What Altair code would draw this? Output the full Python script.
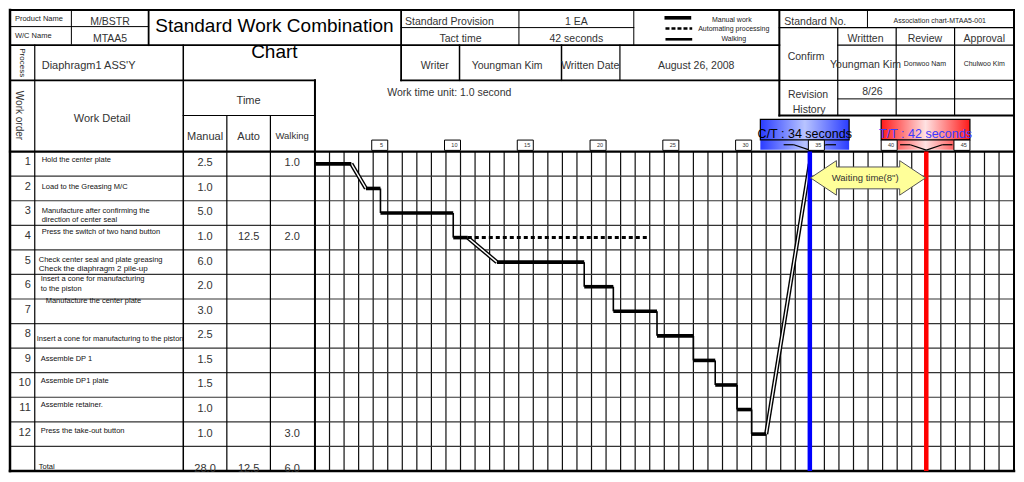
import altair as alt
import pandas as pd

FONT = "Liberation Sans"

# ---------------- chart values ----------------
product_name = "M/BSTR"
wc_name = "MTAA5"
process_name = "Diaphragm1 ASS'Y"
standard_provision = "1 EA"
tact_time = 42
cycle_time = 34
writer = "Youngman Kim"
written_date = "August 26, 2008"
standard_no = "Association chart-MTAA5-001"
confirm_roles = ["Writtten", "Review", "Approval"]
confirm_names = ["Youngman Kim", "Donwoo Nam", "Chulwoo Kim"]
revision = "8/26"
time_unit_note = "Work time unit: 1.0 second"

work_order = [1, 2, 3, 4, 5, 6, 7, 8, 9, 10, 11, 12]
work_detail = [
    ["Hold the center plate"],
    ["Load to the Greasing M/C"],
    ["Manufacture after confirming the", "direction of center seal"],
    ["Press the switch of two hand button"],
    ["Check center seal and plate greasing", "Check the diaphragm 2 pile-up"],
    ["Insert a cone for manufacturing", "to the piston"],
    ["Manufacture the center plate"],
    ["Insert a cone for manufacturing to the piston"],
    ["Assemble DP 1"],
    ["Assemble DP1 plate"],
    ["Assemble retainer."],
    ["Press the take-out button"],
]
manual_time = [2.5, 1.0, 5.0, 1.0, 6.0, 2.0, 3.0, 2.5, 1.5, 1.5, 1.0, 1.0]
auto_time = [None, None, None, 12.5, None, None, None, None, None, None, None, None]
walking_time = [1.0, None, None, 2.0, None, None, None, None, None, None, None, 3.0]
time_ticks = [5, 10, 15, 20, 25, 30, 35, 40, 45]
legend_labels = ["Manual work", "Automating processing", "Walking"]

# ---------------- layout (reference pixel space) ----------------
PX0, PX1, PY0, PY1 = 4, 1018, 5, 477
T0, SEC = 312, 14.7        # pixel of time 0, pixels per second
R0, ROW_H = 150, 25.15     # top of first row, row height
N_SEC = 48

X_PX = alt.Scale(domain=[PX0, PX1], nice=False, zero=False)
Y_PX = alt.Scale(domain=[PY0, PY1], nice=False, zero=False, reverse=True)
X_T = alt.Scale(domain=[(PX0 - T0) / SEC, (PX1 - T0) / SEC], nice=False, zero=False)
Y_R = alt.Scale(domain=[(PY0 - R0) / ROW_H, (PY1 - R0) / ROW_H], nice=False, zero=False, reverse=True)


def rules(df, xs, ys, **mk):
    enc = dict(x=alt.X("x:Q", scale=xs, axis=None), y=alt.Y("y:Q", scale=ys, axis=None))
    if "x2" in df:
        enc["x2"] = "x2:Q"
    if "y2" in df:
        enc["y2"] = "y2:Q"
    if "w" in df:
        enc["strokeWidth"] = alt.StrokeWidth("w:Q", scale=None)
    if "c" in df:
        enc["color"] = alt.Color("c:N", scale=None)
    return alt.Chart(df).mark_rule(**mk).encode(**enc)


def texts(df, xs, ys, align="center", **mk):
    enc = dict(
        x=alt.X("x:Q", scale=xs, axis=None),
        y=alt.Y("y:Q", scale=ys, axis=None),
        text="t:N",
        size=alt.Size("s:Q", scale=None),
        color=alt.Color("c:N", scale=None),
    )
    if "a" in df:
        enc["angle"] = alt.Angle("a:Q", scale=None)
    return alt.Chart(df).mark_text(align=align, baseline="middle", font=FONT, **mk).encode(**enc)


layers = []

# ---------------- time grid ----------------
grid_v = pd.DataFrame({"x": list(range(1, N_SEC)), "y": 0, "y2": len(work_order) + 1})
layers.append(rules(grid_v, X_T, Y_R, color="#111", strokeWidth=1.2))
row_lines = pd.DataFrame({"x": PX0, "x2": PX1, "y": [float(k) for k in range(1, len(work_order) + 1)]})
layers.append(rules(row_lines, X_PX, Y_R, color="#333", strokeWidth=1.2))

# ---------------- form frame ----------------
frame = [
    (4, 5, 1018, 5, 2), (4, 477, 1018, 477, 2.5), (4, 5, 4, 477, 2.5), (1018, 5, 1018, 477, 2),
    (4, 22, 144, 22, 1), (66, 5, 66, 40, 1), (144, 5, 144, 41, 1.8), (4, 41, 399, 41, 1.8),
    (399, 5, 399, 77, 1.8), (4, 77, 312, 77, 1.8), (29, 41, 29, 477, 1.2), (179, 41, 179, 477, 1.5),
    (179, 113, 312, 113, 1.2), (223, 113, 223, 477, 1.2), (267, 113, 267, 477, 1.2), (312, 77, 312, 477, 2),
    (399, 23, 634, 23, 1), (518, 5, 518, 41, 1), (634, 5, 634, 41, 1), (399, 41, 781, 41, 1.8),
    (458, 41, 458, 77, 1.5), (561, 41, 561, 77, 1.5), (620, 41, 620, 77, 1.2), (399, 77, 781, 77, 1.8),
    (781, 5, 781, 113, 2), (781, 23, 1018, 23, 1.2), (870, 5, 870, 23, 1), (840, 23, 840, 113, 1.2),
    (899, 23, 899, 113, 1.2), (958, 23, 958, 113, 1.2), (840, 41, 1018, 41, 1.2), (781, 77, 1018, 77, 1.2),
    (840, 96, 1018, 96, 1), (781, 113, 1018, 113, 1.8), (4, 150, 1018, 150, 2.2),
]
frame_df = pd.DataFrame(frame, columns=["x", "y", "x2", "y2", "w"])
layers.append(rules(frame_df, X_PX, Y_PX, color="#000", strokeCap="square"))

# ---------------- C/T and T/T callouts ----------------
box_y, box_y2, box_mid = -1.31, -0.08, -0.48


def callout(value, label, edge, light, text_color, dx0, dx1):
    g = alt.LinearGradient(
        gradient="linear",
        stops=[alt.GradientStop(color=edge, offset=0),
               alt.GradientStop(color=light, offset=0.5),
               alt.GradientStop(color=edge, offset=1)],
        x1=0, x2=1, y1=0, y2=0,
    )
    d = pd.DataFrame({"x": [value + dx0], "x2": [value + dx1], "y": [box_y], "y2": [box_y2]})
    body = alt.Chart(d).mark_rect(color=g, opacity=1).encode(
        x=alt.X("x:Q", scale=X_T, axis=None), x2="x2:Q", y=alt.Y("y:Q", scale=Y_R, axis=None), y2="y2:Q")
    d2 = pd.DataFrame({"x": [value + dx0], "x2": [value + dx1], "y": [box_y], "y2": [box_mid]})
    outline = alt.Chart(d2).mark_rect(fillOpacity=0, stroke="#000", strokeWidth=1.2).encode(
        x=alt.X("x:Q", scale=X_T, axis=None), x2="x2:Q", y=alt.Y("y:Q", scale=Y_R, axis=None), y2="y2:Q")
    ptr = pd.DataFrame({
        "x": [value - 1.8, value - 1.1, value, value + 1.1],
        "x2": [value - 1.1, value, value + 1.1, value + 1.8],
        "y": [-0.28, -0.28, -0.06, -0.28],
        "y2": [-0.28, -0.06, -0.28, -0.28],
    })
    pointer = rules(ptr, X_T, Y_R, color="#000", strokeWidth=1.2)
    lab = pd.DataFrame({"x": [value + (dx0 + dx1) / 2], "y": [-0.72], "t": [label], "s": [12.5], "c": [text_color]})
    return [body, outline, pointer, texts(lab, X_T, Y_R)]


layers += callout(cycle_time, f"C/T : {cycle_time}  seconds", "#2a3cff", "#b8c4ff", "#000", -3.4, 2.7)
layers += callout(tact_time, f"T/T : {tact_time} seconds", "#ff1a1a", "#ffe2e2", "#3a3aff", -3.1, 3.0)

# ---------------- second tick boxes ----------------
tick_df = pd.DataFrame({"x": [t - 1.1 for t in time_ticks], "x2": time_ticks, "y": -0.47, "y2": -0.05})
layers.append(alt.Chart(tick_df).mark_rect(fill="#fff", stroke="#000", strokeWidth=1).encode(
    x=alt.X("x:Q", scale=X_T, axis=None), x2="x2:Q", y=alt.Y("y:Q", scale=Y_R, axis=None), y2="y2:Q"))
tick_lab = pd.DataFrame({"x": [t - 0.42 for t in time_ticks], "y": -0.25,
                         "t": [str(t) for t in time_ticks], "s": 5.5, "c": "#333"})
layers.append(texts(tick_lab, X_T, Y_R))

# ---------------- gantt segments ----------------
man, auto, walk, drop = [], [], [], []
t = 0.0
n = len(work_order)
for i in range(n):
    s = t
    e = s + manual_time[i]
    yc = i + 0.5
    man.append({"x": s, "x2": e, "y": yc})
    if auto_time[i]:
        auto.append({"x": e, "x2": e + auto_time[i], "y": yc})
    w = walking_time[i] or 0.0
    if w:
        ny = (i + 1) + 0.5 if i < n - 1 else 0.5
        walk.append({"x": e, "x2": e + w, "y": yc, "y2": ny})
    elif i < n - 1:
        drop.append({"x": e, "x2": e, "y": yc, "y2": yc + 1})
    t = e + w

walk_df = pd.DataFrame(walk)
layers.append(rules(walk_df, X_T, Y_R, color="#000", strokeWidth=4.2))
layers.append(rules(walk_df, X_T, Y_R, color="#fff", strokeWidth=1.4))
layers.append(rules(pd.DataFrame(drop), X_T, Y_R, color="#000", strokeWidth=1.6))
layers.append(rules(pd.DataFrame(auto), X_T, Y_R, color="#000", strokeWidth=3, strokeDash=[4, 3]))
layers.append(rules(pd.DataFrame(man), X_T, Y_R, color="#000", strokeWidth=3.6))

# cycle / tact lines
ct_df = pd.DataFrame({"x": [cycle_time, tact_time], "y": 0, "y2": n + 1, "c": ["#0000ff", "#ff0000"]})
layers.append(rules(ct_df, X_T, Y_R, strokeWidth=4.5))

# waiting-time arrow
ARROW = ("M -1 0 L -0.55 -0.3 L -0.55 -0.19 L 0.55 -0.19 L 0.55 -0.3 L 1 0 "
         "L 0.55 0.3 L 0.55 0.19 L -0.55 0.19 L -0.55 0.3 Z")
arr = pd.DataFrame({"x": [(cycle_time + tact_time) / 2], "y": [1.07]})
layers.append(alt.Chart(arr).mark_point(shape=ARROW, size=13225, filled=True, fill="#ffff99",
                                        stroke="#555", strokeWidth=1, opacity=1, fillOpacity=1).encode(
    x=alt.X("x:Q", scale=X_T, axis=None), y=alt.Y("y:Q", scale=Y_R, axis=None)))
wlab = pd.DataFrame({"x": [(cycle_time + tact_time) / 2 - 0.2], "y": [1.07],
                     "t": [f'Waiting time({tact_time - cycle_time}")'], "s": [9.5], "c": ["#333"]})
layers.append(texts(wlab, X_T, Y_R))

# ---------------- legend ----------------
leg = pd.DataFrame({"x": [665, 666, 666], "x2": [692, 693, 693], "y": [13, 24, 35], "w": [3.6, 2.6, 2.6]})
layers.append(rules(leg.iloc[[0, 2]], X_PX, Y_PX, color="#000"))
layers.append(rules(leg.iloc[[1]], X_PX, Y_PX, color="#000", strokeDash=[4, 2]))
leg_t = pd.DataFrame({"x": [733, 735, 735], "y": [15, 24, 35], "t": legend_labels, "s": 7, "c": "#222"})
layers.append(texts(leg_t, X_PX, Y_PX))

# ---------------- header texts ----------------
C, L = "center", "left"
head = [
    ("Product Name", 9, 14, 7.5, L, 0, "#222"),
    ("W/C Name", 9, 32, 7.5, L, 0, "#222"),
    (product_name, 105, 17, 10.5, C, 0, "#333"),
    (wc_name, 105, 35, 10.5, C, 0, "#333"),
    ("Standard Work Combination", 271, 21, 19, C, 0, "#000"),
    ("Chart", 271, 48, 19, C, 0, "#000"),
    ("Process", 16, 59, 8, C, 90, "#222"),
    (process_name, 36, 62, 11, L, 0, "#333"),
    ("Work order", 13, 113, 10, C, 90, "#333"),
    ("Work Detail", 97, 117, 11, C, 0, "#333"),
    ("Time", 245, 98, 11, C, 0, "#333"),
    ("Manual", 201, 135, 11, C, 0, "#333"),
    ("Auto", 245, 135, 11, C, 0, "#333"),
    ("Walking", 289, 134, 9.5, C, 0, "#333"),
    (time_unit_note, 385, 90, 10.5, L, 0, "#333"),
    ("Standard Provision", 403, 17, 10.5, L, 0, "#333"),
    (standard_provision, 576, 17, 10.5, C, 0, "#333"),
    ("Tact time", 459, 35, 10.5, C, 0, "#333"),
    (f"{tact_time} seconds", 576, 35, 10.5, C, 0, "#333"),
    ("Writer", 433, 62, 10.5, C, 0, "#333"),
    (writer, 506, 62, 10.5, C, 0, "#333"),
    ("Written Date", 590, 62, 10.5, C, 0, "#333"),
    (written_date, 697, 62, 10.5, C, 0, "#333"),
    ("Standard No.", 786, 17, 10.5, L, 0, "#333"),
    (standard_no, 943, 16, 7, C, 0, "#222"),
    (confirm_roles[0], 868, 35, 10.5, C, 0, "#333"),
    (confirm_roles[1], 928, 35, 10.5, C, 0, "#333"),
    (confirm_roles[2], 988, 35, 10.5, C, 0, "#333"),
    ("Confirm", 808, 53, 10.5, C, 0, "#333"),
    (confirm_names[0], 868, 61, 10.5, C, 0, "#333"),
    (confirm_names[1], 928, 60, 7, C, 0, "#222"),
    (confirm_names[2], 988, 60, 7, C, 0, "#222"),
    ("Revision", 810, 92, 10.5, C, 0, "#333"),
    ("History", 811, 107, 10.5, C, 0, "#333"),
    (revision, 875, 89, 10.5, C, 0, "#333"),
]
head_df = pd.DataFrame(head, columns=["t", "x", "y", "s", "al", "a", "c"])
for al in (C, L):
    layers.append(texts(head_df[head_df.al == al].drop(columns="al"), X_PX, Y_PX, align=al))

# ---------------- table rows ----------------
detail_dy = [[9], [11], [10, 20], [7], [10, 20], [5, 15], [2], [16], [11], [9], [8], [9]]
detail_x = [36, 36, 36, 36, 33, 35, 40, 31, 35, 35, 35, 35]
num_rows = pd.DataFrame({"x": 25, "y": [i + 11 / ROW_H for i in range(n)],
                         "t": [str(k) for k in work_order], "s": 11, "c": "#333"})
layers.append(texts(num_rows, X_PX, Y_R, align="right"))

det = []
for i in range(n):
    for line, dy in zip(work_detail[i], detail_dy[i]):
        det.append({"x": detail_x[i], "y": i + dy / ROW_H, "t": line,
                    "s": 8 if (i == 4 and dy > 15) else 7.5, "c": "#111"})
det.append({"x": 33, "y": n + 21 / ROW_H, "t": "Total", "s": 7.5, "c": "#111"})
layers.append(texts(pd.DataFrame(det), X_PX, Y_R, align="left"))


def fmt(v):
    return f"{v:.1f}" if v else ""


vals = []
for i in range(n):
    for xcol, v in ((201, manual_time[i]), (245, auto_time[i]), (289, walking_time[i])):
        if v:
            vals.append({"x": xcol, "y": i + 12 / ROW_H, "t": fmt(v), "s": 11, "c": "#333"})
tot = [sum(manual_time), sum(v or 0 for v in auto_time), sum(v or 0 for v in walking_time)]
for xcol, v in zip((201, 245, 289), tot):
    vals.append({"x": xcol, "y": n + 23 / ROW_H, "t": fmt(v), "s": 11, "c": "#333"})
layers.append(texts(pd.DataFrame(vals), X_PX, Y_R))

chart = (
    alt.layer(*layers)
    .resolve_scale(x="independent", y="independent")
    .properties(width=1008, height=466, padding=0, background="#ffffff",
                autosize=alt.AutoSizeParams(type="fit", contains="padding"))
    .configure_view(stroke=None)
)

chart.save("out.html", embed_options={"renderer": "svg", "actions": False})
